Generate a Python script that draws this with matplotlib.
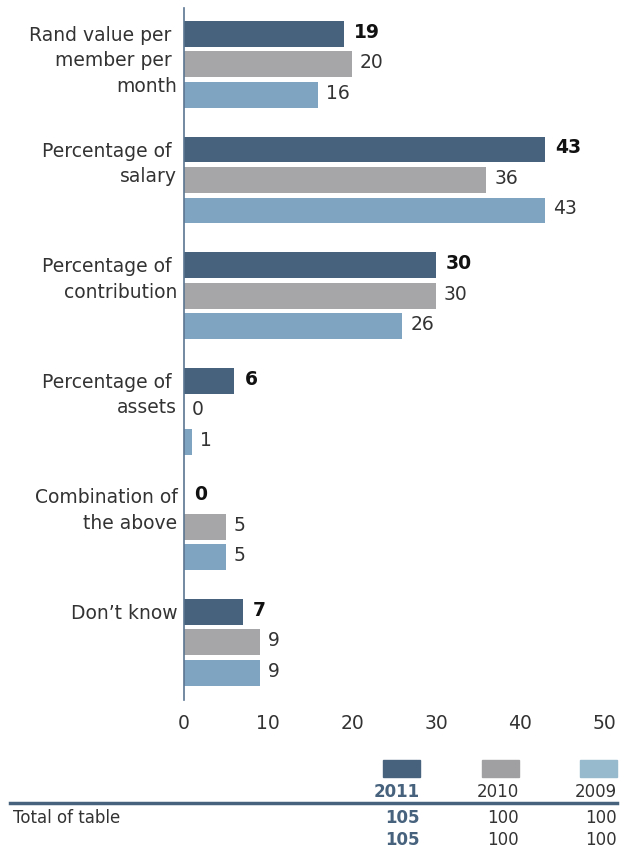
import matplotlib
matplotlib.use("Agg")
import matplotlib.pyplot as plt
from matplotlib.patches import Rectangle
from matplotlib.lines import Line2D

plt.rcParams["font.family"] = ["DejaVu Sans"]

categories = [
    "Rand value per \nmember per \nmonth",
    "Percentage of \nsalary",
    "Percentage of \ncontribution",
    "Percentage of \nassets",
    "Combination of\nthe above",
    "Don\u2019t know",
]
years = ["2011", "2010", "2009"]
v2011 = [19, 43, 30, 6, 0, 7]
v2010 = [20, 36, 30, 0, 5, 9]
v2009 = [16, 43, 26, 1, 5, 9]
totals = [[105, 100, 100], [105, 100, 100]]
total_label = "Total of table"

colors = ["#46627d", "#a6a6a8", "#7ea4c2"]
swatch_colors = ["#46627d", "#a0a0a2", "#97bacd"]
series = [v2011, v2010, v2009]

fig = plt.figure(figsize=(6.3, 8.5), dpi=100)
ax = fig.add_axes([184 / 630, 1 - 700 / 850, 420 / 630, 692 / 850])

gap = 3.79
for k, vals in enumerate(series):
    ys = [g * gap + k for g in range(len(categories))]
    ax.barh(ys, vals, height=0.85, color=colors[k])
    for y, v in zip(ys, vals):
        ax.text(v + (1.2 if k == 0 else 0.95), y - 0.05, str(v), va="center",
                ha="left", fontsize=13.5,
                color="#111111" if k == 0 else "#333333",
                fontweight="bold" if k == 0 else "normal")

for g, name in enumerate(categories):
    for i, line in enumerate(name.split("\n")):
        ax.text(-0.8, g * gap + 0.05 + i * 0.836, line, ha="right", va="center",
                fontsize=13.5, color="#333333")

ax.set_xlim(0, 50)
ax.set_ylim(5 * gap + 2 + 0.89, -0.85)
ax.set_xticks(range(0, 51, 10))
ax.tick_params(axis="x", length=0, labelsize=13.5, labelcolor="#333333", pad=10)
ax.set_yticks([])
for s in ["top", "right", "bottom"]:
    ax.spines[s].set_visible(False)
ax.spines["left"].set_color("#5a7590")
ax.spines["left"].set_linewidth(1.2)

# legend / totals table below the chart
W, H = 630, 850
rights = [420, 519, 617]
for k in range(3):
    fig.add_artist(Rectangle(((rights[k] - 37) / W, 1 - 777 / H), 37 / W, 17 / H,
                             transform=fig.transFigure, color=swatch_colors[k]))
    fig.text(rights[k] / W, 1 - 792 / H, years[k], ha="right", va="center",
             fontsize=12, color="#46627d" if k == 0 else "#333333",
             fontweight="bold" if k == 0 else "normal")
fig.add_artist(Line2D([10 / W, 617 / W], [1 - 803 / H, 1 - 803 / H],
                      transform=fig.transFigure, color="#46627d", lw=2.5))
fig.text(13 / W, 1 - 818 / H, total_label, ha="left", va="center",
         fontsize=12, color="#333333")
for r, row in enumerate(totals):
    for k, v in enumerate(row):
        fig.text(rights[k] / W, 1 - (818 + 22 * r) / H, str(v), ha="right",
                 va="center", fontsize=12,
                 color="#46627d" if k == 0 else "#333333",
                 fontweight="bold" if k == 0 else "normal")

fig.savefig("out.png", dpi=100)
